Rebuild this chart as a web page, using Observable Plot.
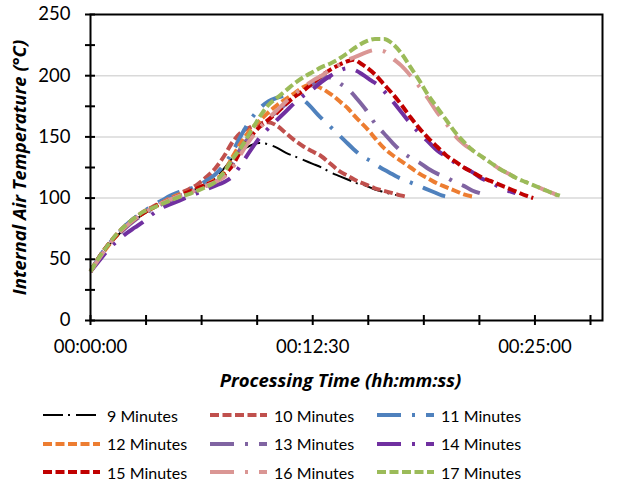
<!DOCTYPE html>
<html><head><meta charset="utf-8">
<script src="https://cdn.jsdelivr.net/npm/d3@7"></script>
<script src="https://cdn.jsdelivr.net/npm/@observablehq/plot@0.6"></script>
<style>
body{margin:0;background:#fff;font-family:Lato,sans-serif;}
#wrap{width:627px;height:504px;position:relative;overflow:hidden;background:#fff}
#chart{position:absolute;left:0;top:0}
#legend{position:absolute;left:43px;top:401px;display:grid;grid-template-columns:167px 167px 167px;grid-auto-rows:28.5px;font-size:16px;color:#000}
.item{display:flex;align-items:center;white-space:nowrap}
.item svg{margin-right:7px;flex:none}
</style>
</head><body>
<div id="wrap"><div id="chart"></div><div id="legend"></div></div>
<script>
// Series names
const names = ["9 Minutes","10 Minutes","11 Minutes","12 Minutes","13 Minutes","14 Minutes","15 Minutes","16 Minutes","17 Minutes"];

// [time in minutes, temperature °C]
const s9 = [[0,40],[0.5,51],[1,61],[1.5,69],[2,76],[2.5,82],[3,87],[3.5,91],[4,95],[4.5,98],[5,101],[5.5,104],[6,108],[6.5,111],[7,116],[7.5,124],[8,133],[8.5,139],[9,143],[9.5,145],[10,144],[10.5,141],[11,137],[11.5,134],[12,131],[12.5,128],[13,125],[13.5,121],[14,118],[14.5,115],[15,112],[15.5,110],[16,107],[16.5,105],[17,103],[17.4,102]];
const s10 = [[0,40],[0.5,52],[1,62],[1.5,71],[2,78],[2.5,84],[3,89],[3.5,93],[4,97],[4.5,101],[5,104],[5.5,107],[6,111],[6.5,117],[7,124],[7.5,134],[8,146],[8.5,154],[9,158],[9.5,161],[10,162],[10.5,159],[11,153],[11.5,147],[12,142],[12.5,138],[13,134],[13.5,128],[14,122],[14.5,118],[15,114],[15.5,111],[16,108],[16.5,106],[17,104],[17.5,102],[17.8,101]];
const s11 = [[0,40],[0.5,52],[1,62],[1.5,70],[2,78],[2.5,84],[3,89],[3.5,94],[4,98],[4.5,102],[5,105],[5.5,107],[6,110],[6.5,114],[7,119],[7.5,127],[8,138],[8.5,152],[9,164],[9.5,173],[10,179],[10.5,182],[11,184],[11.4,185],[11.8,182],[12.3,176],[12.8,168],[13.3,161],[13.8,154],[14.3,147],[14.8,140],[15.3,134],[15.8,130],[16.3,125],[16.8,121],[17.3,117],[17.8,114],[18.3,111],[18.8,108],[19.3,105],[19.8,102],[20.1,101]];
const s12 = [[0,40],[0.5,51],[1,61],[1.5,70],[2,77],[2.5,83],[3,88],[3.5,92],[4,96],[4.5,100],[5,103],[5.5,105],[6,108],[6.5,111],[7,115],[7.5,121],[8,134],[8.5,146],[9,156],[9.5,163],[10,170],[10.5,176],[11,181],[11.5,186],[12,191],[12.4,193],[12.8,191],[13.3,187],[13.7,183],[14.1,178],[14.5,173],[14.8,168],[15.2,162],[15.6,156],[16,149],[16.5,141],[17,135],[17.5,130],[18,125],[18.5,120],[19,116],[19.5,112],[20,109],[20.5,106],[21,103],[21.6,101]];
const s13 = [[0,40],[0.5,51],[1,61],[1.5,69],[2,76],[2.5,82],[3,87],[3.5,91],[4,95],[4.5,99],[5,102],[5.5,104],[6,107],[6.5,110],[7,113],[7.5,118],[8,128],[8.5,142],[9,151],[9.5,158],[10,165],[10.5,171],[11,177],[11.5,183],[12,188],[12.5,193],[13,197],[13.3,199],[13.7,197],[14.1,193],[14.5,189],[15,181],[15.5,172],[16,161],[16.5,153],[17,145],[17.5,138],[18,133],[18.5,129],[19,124],[19.5,120],[20,117],[20.5,113],[21,110],[21.5,106],[21.9,104]];
const s14 = [[0,40],[0.5,49],[1,58],[1.5,65],[2,71],[2.5,76],[3,81],[3.5,87],[4,92],[4.5,95],[5,98],[5.5,101],[6,104],[6.5,107],[7,110],[7.5,113],[8,118],[8.5,128],[9,139],[9.5,149],[10,157],[10.5,164],[11,171],[11.5,178],[12,184],[12.5,189],[13,195],[13.5,200],[14,204],[14.4,206],[14.8,205],[15.3,201],[15.8,196],[16.2,192],[16.6,186],[17,179],[17.5,170],[18,161],[18.5,153],[19,146],[19.5,139],[20,134],[20.5,129],[21,125],[21.5,121],[22,116],[22.5,113],[23,109],[23.5,106],[23.9,104]];
const s15 = [[0,40],[0.5,52],[1,62],[1.5,70],[2,77],[2.5,83],[3,88],[3.5,92],[4,96],[4.5,99],[5,102],[5.5,105],[6,108],[6.5,111],[7,114],[7.5,119],[8,127],[8.5,140],[9,150],[9.5,158],[10,164],[10.5,170],[11,177],[11.5,183],[12,188],[12.5,194],[13,200],[13.5,205],[14,209],[14.5,212],[14.8,213],[15.2,210],[15.6,206],[16,201],[16.5,193],[17,185],[17.5,176],[18,166],[18.5,157],[19,149],[19.5,142],[20,135],[20.5,130],[21,125],[21.5,121],[22,117],[22.5,114],[23,111],[23.5,108],[24,105],[24.5,102],[24.9,100]];
const s16 = [[0,40],[0.5,51],[1,61],[1.5,70],[2,77],[2.5,83],[3,88],[3.5,92],[4,96],[4.5,99],[5,102],[5.5,104],[6,107],[6.5,110],[7,113],[7.5,117],[8,125],[8.5,137],[9,148],[9.5,157],[10,165],[10.5,172],[11,179],[11.5,185],[12,191],[12.5,196],[13,200],[13.5,205],[14,209],[14.5,213],[15,216],[15.5,219],[16,221],[16.5,220],[17,214],[17.5,208],[18,200],[18.5,191],[19,181],[19.5,170],[20,161],[20.5,151],[21,144],[21.5,139],[22,134],[22.5,129],[23,124],[23.5,120],[24,116],[24.5,113],[25,110],[25.5,107],[26,104],[26.3,102]];
const s17 = [[0,40],[0.5,52],[1,62],[1.5,71],[2,78],[2.5,84],[3,89],[3.5,92],[4,95],[4.5,98],[5,101],[5.5,103],[6,106],[6.5,109],[7,113],[7.5,121],[8,132],[8.5,142],[9,154],[9.5,166],[10,176],[10.5,182],[11,188],[11.5,194],[12,199],[12.5,203],[13,207],[13.5,210],[14,214],[14.5,219],[15,224],[15.5,228],[16,230],[16.5,230],[17,226],[17.5,218],[18,207],[18.5,196],[19,184],[19.5,174],[20,164],[20.5,154],[21,146],[21.5,139],[22,134],[22.5,129],[23,124],[23.5,120],[24,116],[24.5,113],[25,110],[25.5,107],[26,104],[26.4,102]];

const seriesData = [s9, s10, s11, s12, s13, s14, s15, s16, s17];

// Axis ticks (minutes / °C)
const xTicks = [0, 3.125, 6.25, 9.375, 12.5, 15.625, 18.75, 21.875, 25, 28.125];
const xLabelValues = [0, 12.5, 25];
const xLabels = ["00:00:00", "00:12:30", "00:25:00"];
const yTicks = [0, 25, 50, 75, 100, 125, 150, 175, 200, 225, 250];
const yLabelValues = [0, 50, 100, 150, 200, 250];
const yGrid = [50, 100, 150, 200];

const xTitle = "Processing Time (hh:mm:ss)";
const yTitle = "Internal Air Temperature (°C)";

// Styles
const colors = ["#000000","#C0504D","#4F81BD","#ED7D31","#8064A2","#7030A0","#C00000","#DA9694","#9BBB59"];
const LDD = "24,11,3,11";
const DASH = "9,3.5";
const dashes = ["20,5,2,6", DASH, LDD, DASH, LDD, LDD, DASH, LDD, DASH];
const widths = [2, 4, 4, 4, 4, 4, 4, 4, 4];

const lineMarks = seriesData.map((s, i) => {
  const rows = s.map(([t, T]) => ({t, T}));
  return Plot.line(rows, {x: "t", y: "T", stroke: colors[i], strokeWidth: widths[i], strokeDasharray: dashes[i], curve: "monotone-x", strokeLinecap: "butt"});
});

const xFmt = d => { const k = xLabelValues.indexOf(d); return k >= 0 ? xLabels[k] : ""; };
const yFmt = d => yLabelValues.includes(d) ? String(d) : "";

const chart = Plot.plot({
  width: 627, height: 395,
  marginLeft: 90, marginRight: 25, marginTop: 14, marginBottom: 75,
  style: {fontFamily: "Lato, sans-serif", fontSize: "18.5px", color: "#000", background: "#fff"},
  x: {domain: [0, 28.8]},
  y: {domain: [0, 250]},
  marks: [
    Plot.gridY(yGrid, {stroke: "#d9d9d9", strokeOpacity: 1, strokeWidth: 1.5}),
    ...lineMarks,
    Plot.frame({stroke: "#000", strokeWidth: 2}),
    Plot.axisY(yTicks, {tickSize: 5, tickPadding: 15, tickFormat: yFmt, label: null, strokeWidth: 2}),
    Plot.axisY(yTicks, {tickSize: 5, dx: 5, tickFormat: () => "", label: null, strokeWidth: 2}),
    Plot.axisX(xTicks, {tickSize: 5, tickPadding: 14, tickFormat: xFmt, label: null, strokeWidth: 2}),
    Plot.axisX(xTicks, {tickSize: 5, dy: -5, tickFormat: () => "", label: null, strokeWidth: 2}),
    Plot.text([yTitle], {text: d => d, frameAnchor: "left", textAnchor: "middle", lineAnchor: "middle", dx: -70, rotate: -90, fontWeight: "bold", fontStyle: "italic", fontSize: 18.5, fontFamily: "Open Sans, sans-serif"}),
    Plot.text([xTitle], {text: d => d, frameAnchor: "bottom", textAnchor: "middle", lineAnchor: "middle", dy: 61, dx: -6, fontWeight: "bold", fontStyle: "italic", fontSize: 18.5, fontFamily: "Open Sans, sans-serif"})
  ]
});
document.getElementById("chart").appendChild(chart);

// Legend
const legend = document.getElementById("legend");
names.forEach((n, i) => {
  const item = document.createElement("div");
  item.className = "item";
  item.innerHTML = `<svg width="57" height="10"><line x1="0" y1="5" x2="57" y2="5" stroke="${colors[i]}" stroke-width="${widths[i]}" stroke-dasharray="${dashes[i]}"/></svg><span>${n}</span>`;
  legend.appendChild(item);
});
</script>
</body></html>
